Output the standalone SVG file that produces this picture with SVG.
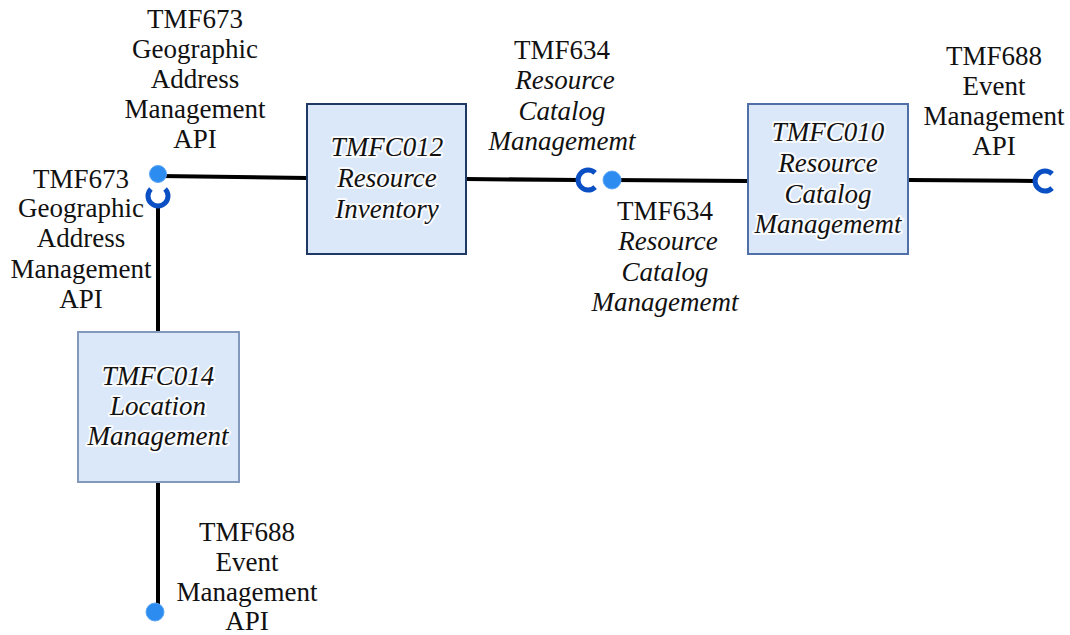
<svg xmlns="http://www.w3.org/2000/svg" width="1070" height="635" viewBox="0 0 1070 635" font-family="Liberation Serif, serif">
  <style>
    .box { fill: #dbe8fa; stroke-width: 2; }
    text { font-family: 'Liberation Serif', 'DejaVu Serif', serif; font-size: 27px; fill: #111; text-anchor: middle; }
    .name { font-style: italic; stroke: #ffffff; stroke-width: 4; stroke-opacity: 0.85; stroke-linejoin: round; paint-order: stroke; }
    .it { font-style: italic; }
    .wire { stroke: #000; stroke-width: 4; fill: none; }
    .ball { fill: #2d8cf0; stroke: #5aa6f5; stroke-width: 1; }
    .socket { fill: none; stroke: #0a4fc4; stroke-width: 5; stroke-linecap: butt; }
  </style>

  <!-- connectors -->
  <g id="connectors">
    <line class="wire" x1="160" y1="176" x2="307" y2="178"/>
    <line class="wire" x1="158" y1="206" x2="158" y2="332"/>
    <line class="wire" x1="158" y1="482" x2="158" y2="610"/>
    <line class="wire" x1="466" y1="179" x2="578" y2="180"/>
    <line class="wire" x1="612" y1="180" x2="748" y2="181"/>
    <line class="wire" x1="908" y1="180" x2="1035" y2="181"/>

    <!-- provided interfaces (balls) -->
    <circle class="ball" cx="158" cy="174" r="8.5"/>
    <circle class="ball" cx="612" cy="180" r="9"/>
    <circle class="ball" cx="155" cy="612" r="9"/>

    <!-- required interfaces (sockets) -->
    <path class="socket" d="M 150.9 188.9 A 10 10 0 1 0 165.1 188.9"/>
    <path class="socket" d="M 595.1 172.9 A 10 10 0 1 0 595.1 187.1"/>
    <path class="socket" d="M 1052.1 173.9 A 10 10 0 1 0 1052.1 188.1"/>
  </g>

  <!-- components -->
  <g id="tmfc012">
    <rect class="box" x="307" y="104" width="159" height="150" stroke="#1f3864"/>
    <text class="name" x="387" y="156">TMFC012</text>
    <text class="name" x="387" y="187">Resource</text>
    <text class="name" x="387" y="218">Inventory</text>
  </g>

  <g id="tmfc010">
    <rect class="box" x="748" y="104" width="160" height="150" stroke="#4f6fa6"/>
    <text class="name" x="828" y="141">TMFC010</text>
    <text class="name" x="828" y="172">Resource</text>
    <text class="name" x="828" y="203">Catalog</text>
    <text class="name" x="828" y="233">Managememt</text>
  </g>

  <g id="tmfc014">
    <rect class="box" x="78" y="332" width="161" height="150" stroke="#8399bb"/>
    <text class="name" x="158" y="385">TMFC014</text>
    <text class="name" x="158" y="415">Location</text>
    <text class="name" x="158" y="445">Management</text>
  </g>

  <!-- interface labels -->
  <g id="label-tmf673-top">
    <text x="195" y="28">TMF673</text>
    <text x="195" y="58">Geographic</text>
    <text x="195" y="88">Address</text>
    <text x="195" y="118">Management</text>
    <text x="195" y="148">API</text>
  </g>

  <g id="label-tmf673-left">
    <text x="81" y="188">TMF673</text>
    <text x="81" y="217">Geographic</text>
    <text x="81" y="247">Address</text>
    <text x="81" y="278">Management</text>
    <text x="81" y="308">API</text>
  </g>

  <g id="label-tmf634-upper">
    <text x="562" y="59">TMF634</text>
    <text class="it" x="565" y="89">Resource</text>
    <text class="it" x="562" y="120">Catalog</text>
    <text class="it" x="562" y="150">Managememt</text>
  </g>

  <g id="label-tmf634-lower">
    <text x="665" y="220">TMF634</text>
    <text class="it" x="668" y="250">Resource</text>
    <text class="it" x="665" y="281">Catalog</text>
    <text class="it" x="665" y="311">Managememt</text>
  </g>

  <g id="label-tmf688-right">
    <text x="994" y="65">TMF688</text>
    <text x="994" y="95">Event</text>
    <text x="994" y="125">Management</text>
    <text x="994" y="155">API</text>
  </g>

  <g id="label-tmf688-bottom">
    <text x="247" y="541">TMF688</text>
    <text x="247" y="571">Event</text>
    <text x="247" y="601">Management</text>
    <text x="247" y="630">API</text>
  </g>
</svg>
